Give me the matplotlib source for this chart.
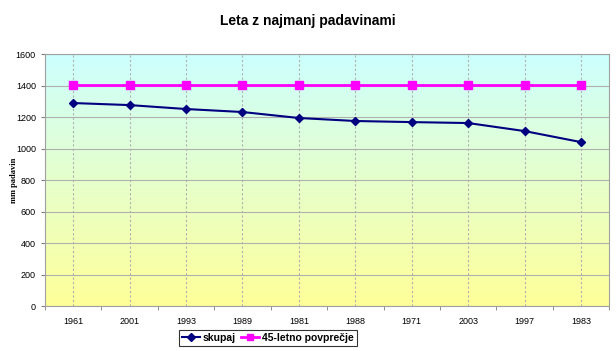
import numpy as np
import matplotlib.pyplot as plt
from matplotlib.colors import LinearSegmentedColormap

leta = ['1961', '2001', '1993', '1989', '1981', '1988', '1971', '2003', '1997', '1983']
skupaj = [1289, 1276, 1251, 1232, 1194, 1175, 1168, 1162, 1111, 1041]
povprecje = [1404] * 10

plt.rcParams['font.family'] = ['Liberation Sans', 'DejaVu Sans']

fig = plt.figure(figsize=(6.16, 3.51), dpi=100)
ax = fig.add_axes([0.073, 0.128, 0.916, 0.718])

# ozadje: prehod cian -> rumena
cmap = LinearSegmentedColormap.from_list('bg', ['#ffff99', '#e6ffcc', '#ccffff'])
grad = np.linspace(0, 1, 256).reshape(-1, 1)
ax.imshow(grad, cmap=cmap, aspect='auto', extent=[0, 1, 0, 1], origin='lower',
          transform=ax.transAxes, zorder=0)

x = np.arange(len(leta))
ax.plot(x, skupaj, color='#000080', marker='D', markersize=4.5, linewidth=1.5,
        label='skupaj', zorder=3)
ax.plot(x, povprecje, color='#ff00ff', marker='s', markersize=5.5, linewidth=2,
        label='45-letno povprečje', zorder=3)

ax.set_xlim(-0.5, len(leta) - 0.5)
ax.set_ylim(0, 1600)
ax.set_yticks(range(0, 1601, 200))
ax.set_xticks(x)
ax.set_xticklabels(leta)
ax.set_xticks(np.arange(-0.5, len(leta), 1), minor=True)
ax.tick_params(axis='x', which='major', length=0, labelsize=6.5, pad=8)
ax.tick_params(axis='x', which='minor', length=3, color='#808080')
ax.tick_params(axis='y', labelsize=6.5, length=3, color='#808080')

ax.grid(axis='y', color='#b0b0b0', linewidth=0.8, zorder=1)
for xi in x:
    ax.axvline(xi, color='#b0b0b0', linestyle=(0, (2, 2)), linewidth=0.8, zorder=1)

for s in ax.spines.values():
    s.set_color('#a0a0a0')
ax.set_ylabel('mm padavin', fontsize=6, fontweight='bold', family='Liberation Serif',
              labelpad=2)
ax.yaxis.set_label_coords(-0.048, 0.5)

fig.suptitle('Leta z najmanj padavinami', x=0.5, y=0.96, fontsize=10, fontweight='bold')

leg = fig.legend(loc='center', bbox_to_anchor=(0.435, 0.038), ncol=2,
                 frameon=True, fancybox=False, handlelength=1.7, columnspacing=0.5,
                 handletextpad=0.3, borderpad=0.3, borderaxespad=0,
                 prop={'weight': 'bold', 'size': 7.5}, markerscale=0.8)
leg.get_frame().set_edgecolor('black')
leg.get_frame().set_linewidth(0.8)

fig.savefig('out.png', dpi=100)
